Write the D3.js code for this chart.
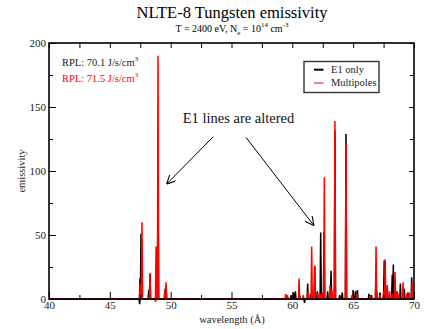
<!DOCTYPE html>
<html>
<head>
<meta charset="utf-8">
<script src="https://cdn.jsdelivr.net/npm/d3@7"></script>
<style>
  body { margin: 0; background: #fff; }
  svg { display: block; font-family: "Liberation Serif", "Times New Roman", serif; }
</style>
</head>
<body>
<svg id="chart" width="431" height="329"></svg>
<script>
// E1 only (black) line positions (Å) and peak emissivity
const e1Wave = [47.45, 47.48, 47.56, 47.61, 48.2, 48.3, 48.88, 48.96, 49.55, 49.62,
  59.9, 60.1, 60.25, 60.6, 61.0, 61.26, 61.5, 61.84, 62.05, 62.33, 62.6, 62.9, 63.18,
  63.5, 63.9, 64.1, 64.41, 65.0, 65.2, 65.35, 66.3, 66.5, 66.88, 67.2, 67.55, 67.8,
  68.21, 68.3, 68.6, 68.88, 69.2, 69.5, 69.81];
const e1Value = [-4, 16, 51, 46, 7, 20, 30, 88, 8, 10,
  3, 5, 6, 3, -3, 12, 4, 26, 6, 52, 52, 6, 22,
  131, 3, 5, 129, 7, 6, 7, 4, 3, 22, 5, 30, 8,
  19, 27, 6, 12, 8, 5, 17];

// Multipoles (red)
const mpWave = [47.5, 47.64, 48.3, 48.75, 48.8, 48.96, 49.5, 49.62,
  59.45, 59.6, 60.55, 60.9, 61.3, 61.59, 61.84, 62.1, 62.3, 62.45, 62.63, 63.1, 63.25,
  63.5, 64.41, 64.9, 65.3, 66.4, 66.88, 66.95, 67.2, 67.5, 67.63, 67.8, 68.0, 68.2,
  68.44, 68.6, 68.75, 69.1, 69.4, 69.6, 69.85];
const mpValue = [12, 60, 20, -2, 41, 190, 5, 13,
  4, 3, 16, 3, 6, 41, 26, 5, 4, 5, 95, 11, 7,
  139, 121, 3, 4, 3, 41, 6, 3, 6, 31, 11, 6, 4,
  21, 5, 4, 13, 4, 5, 13];

const xMajor = [40, 45, 50, 55, 60, 65, 70];
const xMinor = [42.5, 47.5, 52.5, 57.5, 62.5, 67.5];
const yMajor = [0, 50, 100, 150, 200];
const yMinor = [25, 75, 125, 175];

const seriesNames = ["E1 only", "Multipoles"];
const seriesColors = ["#000", "#ff0000"];
const rplLines = ["RPL: 70.1 J/s/cm", "RPL: 71.5 J/s/cm"];

// annotation: label anchor and two arrows, in data units
const noteText = "E1 lines are altered";
const noteAt = [50.99, 137.7];
const arrows = [
  [[53.5, 126.8], [49.67, 89.8]],
  [[56.19, 126.3], [61.78, 57.3]]
];

const serif = "Liberation Serif, Times New Roman, serif";
const svg = d3.select("#chart");
const m = { left: 49, right: 414, top: 43, bottom: 299 };

const x = d3.scaleLinear().domain([40, 70]).range([m.left, m.right]);
const y = d3.scaleLinear().domain([0, 200]).range([m.bottom, m.top]);

// titles
svg.append("text")
  .attr("x", 232).attr("y", 18)
  .attr("text-anchor", "middle")
  .attr("font-size", 16.5)
  .text("NLTE-8 Tungsten emissivity");

const sub = svg.append("text")
  .attr("x", 232).attr("y", 31.5)
  .attr("text-anchor", "middle")
  .attr("font-size", 10);
sub.append("tspan").text("T = 2400 eV, N");
sub.append("tspan").attr("font-size", 7).attr("dy", 3).text("e");
sub.append("tspan").attr("dy", -3).text(" = 10");
sub.append("tspan").attr("font-size", 7).attr("dy", -5).text("14");
sub.append("tspan").attr("dy", 5).text(" cm");
sub.append("tspan").attr("font-size", 7).attr("dy", -5).text("-3");

// spectra: each line drawn as a narrow spike from the baseline
const hw = 0.05;
function spikes(waves, vals) {
  const pts = [[40, 0]];
  d3.range(waves.length)
    .sort((a, b) => waves[a] - waves[b])
    .forEach(i => {
      pts.push([waves[i] - hw, 0], [waves[i], vals[i]], [waves[i] + hw, 0]);
    });
  pts.push([70, 0]);
  return pts;
}

const line = d3.line().x(d => x(d[0])).y(d => y(d[1]));

const plot = svg.append("g").attr("class", "plot");
[[e1Wave, e1Value], [mpWave, mpValue]].forEach((s, k) => {
  plot.append("path")
    .datum(spikes(s[0], s[1]))
    .attr("d", line)
    .attr("fill", seriesColors[k])
    .attr("stroke", seriesColors[k])
    .attr("stroke-width", 1.5)
    .attr("stroke-linejoin", "bevel");
});

// axes: ticks point inward, mirrored on top and right
function styleAxis(g) {
  g.attr("font-family", serif);
  g.select(".domain").remove();
  g.selectAll("line").attr("stroke", "#000").attr("stroke-width", 1);
  g.selectAll("text").attr("font-size", 11).attr("fill", "#222");
}

svg.append("g").attr("transform", `translate(0,${m.bottom})`)
  .call(d3.axisBottom(x).tickValues(xMajor).tickSize(-7).tickPadding(2).tickFormat(d3.format("d")))
  .call(styleAxis);
svg.append("g").attr("transform", `translate(0,${m.bottom})`)
  .call(d3.axisBottom(x).tickValues(xMinor).tickSize(-4).tickFormat(""))
  .call(styleAxis);
svg.append("g").attr("transform", `translate(0,${m.top})`)
  .call(d3.axisTop(x).tickValues(xMajor.concat(xMinor)).tickSize(-5).tickFormat(""))
  .call(styleAxis);

svg.append("g").attr("transform", `translate(${m.left},0)`)
  .call(d3.axisLeft(y).tickValues(yMajor).tickSize(-7).tickPadding(3).tickFormat(d3.format("d")))
  .call(styleAxis);
svg.append("g").attr("transform", `translate(${m.left},0)`)
  .call(d3.axisLeft(y).tickValues(yMinor).tickSize(-4).tickFormat(""))
  .call(styleAxis);
svg.append("g").attr("transform", `translate(${m.right},0)`)
  .call(d3.axisRight(y).tickValues(yMajor).tickSize(-5).tickFormat(""))
  .call(styleAxis);
svg.append("g").attr("transform", `translate(${m.right},0)`)
  .call(d3.axisRight(y).tickValues(yMinor).tickSize(-4).tickFormat(""))
  .call(styleAxis);

// frame
svg.append("rect")
  .attr("x", m.left).attr("y", m.top)
  .attr("width", m.right - m.left).attr("height", m.bottom - m.top)
  .attr("fill", "none").attr("stroke", "#000").attr("stroke-width", 1.6);

// axis titles
svg.append("text")
  .attr("x", 232).attr("y", 323)
  .attr("text-anchor", "middle").attr("font-size", 10.5).attr("fill", "#222")
  .text("wavelength (Å)");
svg.append("text")
  .attr("transform", `translate(25,${(m.top + m.bottom) / 2}) rotate(-90)`)
  .attr("text-anchor", "middle").attr("font-size", 10.5).attr("fill", "#222")
  .text("emissivity");

// RPL values
rplLines.forEach((t, i) => {
  const tx = svg.append("text")
    .attr("x", 62).attr("y", 66 + i * 15.7)
    .attr("font-size", 10.5)
    .attr("fill", i ? "#ff0000" : "#222");
  tx.append("tspan").text(t);
  tx.append("tspan").attr("font-size", 7).attr("dy", -5).text("3");
});

// legend
const lg = svg.append("g");
lg.append("rect")
  .attr("x", 304).attr("y", 61.5).attr("width", 75).attr("height", 31)
  .attr("fill", "#fff").attr("stroke", "#333").attr("stroke-width", 1.4);
seriesNames.forEach((n, i) => {
  const ly = 69.7 + i * 13.3;
  lg.append("line")
    .attr("x1", 314).attr("x2", 323.5).attr("y1", ly).attr("y2", ly)
    .attr("stroke", seriesColors[i]).attr("stroke-width", i ? 1 : 2);
  lg.append("text")
    .attr("x", 331).attr("y", ly + 3.3)
    .attr("font-size", 10.5).attr("fill", "#222")
    .text(n);
});

// annotation
svg.append("defs").append("marker")
  .attr("id", "head")
  .attr("viewBox", "0 0 10 10")
  .attr("refX", 10).attr("refY", 5)
  .attr("markerWidth", 9).attr("markerHeight", 9)
  .attr("markerUnits", "userSpaceOnUse")
  .attr("orient", "auto")
  .append("path")
  .attr("d", "M0,0 L10,5 L0,10")
  .attr("fill", "none").attr("stroke", "#000").attr("stroke-width", 1.2);

svg.append("text")
  .attr("x", x(noteAt[0])).attr("y", y(noteAt[1]))
  .attr("font-size", 14.5).attr("fill", "#111")
  .text(noteText);

arrows.forEach(a => {
  svg.append("line")
    .attr("x1", x(a[0][0])).attr("y1", y(a[0][1]))
    .attr("x2", x(a[1][0])).attr("y2", y(a[1][1]))
    .attr("stroke", "#000").attr("stroke-width", 1)
    .attr("marker-end", "url(#head)");
});
</script>
</body>
</html>
